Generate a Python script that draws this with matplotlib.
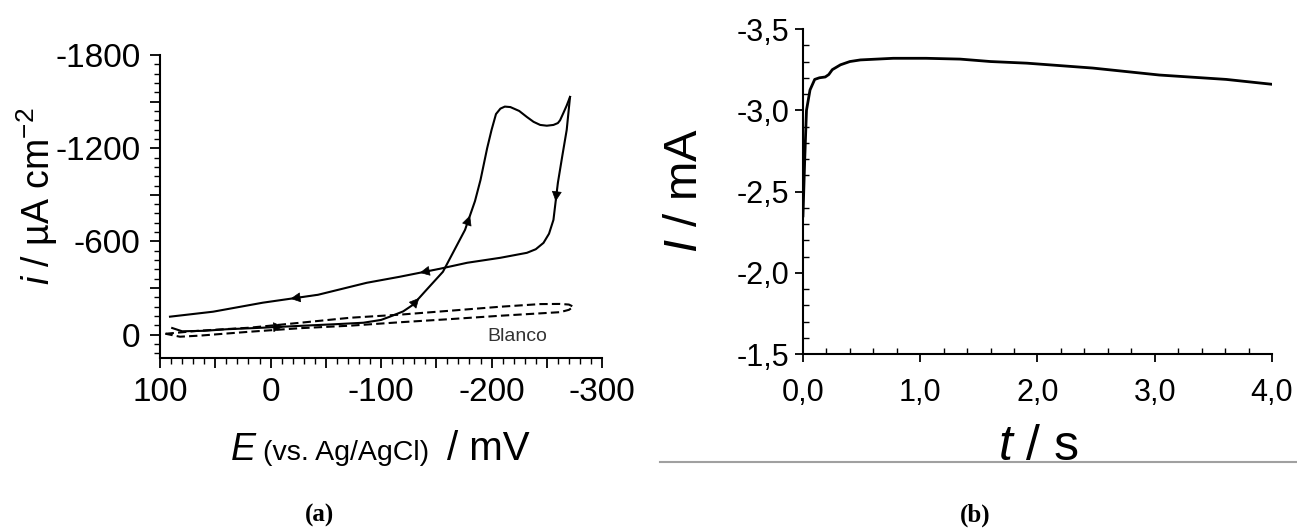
import matplotlib
matplotlib.use('Agg')
import matplotlib.pyplot as plt
from matplotlib.ticker import MultipleLocator, FuncFormatter

plt.rcParams['font.family'] = ['Liberation Sans', 'DejaVu Sans']
plt.rcParams['axes.unicode_minus'] = False
plt.rcParams['mathtext.fontset'] = 'custom'
plt.rcParams['mathtext.rm'] = 'Liberation Sans'
plt.rcParams['mathtext.it'] = 'Liberation Sans:italic'

# (a) voltammogram, forward scan (towards negative potentials)
E_fwd = [89, 80, 60, 40, 7, -30, -60, -84, -100, -108, -120, -129, -140, -156,
         -166, -176, -185, -190, -196, -200, -204, -208, -212, -217, -225, -232,
         -238, -244, -250, -256, -260, -262, -265, -268, -271]
i_fwd = [-43, -22, -25, -35, -45, -58, -68, -77, -95, -116, -150, -193, -280,
         -405, -540, -675, -860, -996, -1200, -1318, -1420, -1455, -1468, -1465,
         -1440, -1401, -1370, -1350, -1345, -1350, -1362, -1380, -1427, -1475, -1530]
# reverse scan
E_rev = [-271, -268, -264, -260, -256, -252, -247, -240, -232, -208, -178,
         -153, -117, -87, -43, 7, 52, 91]
i_rev = [-1530, -1318, -1150, -977, -739, -650, -591, -550, -527, -495, -463,
         -424, -373, -334, -257, -206, -148, -116]
# blank (dashed loop)
E_blank = [95, 64, 19, -27, -72, -117, -162, -208, -244, -262, -270, -274,
           -270, -262, -208, -162, -117, -72, -27, 19, 64, 82, 95]
i_blank = [-6, -26, -45, -77, -109, -129, -154, -180, -197, -198, -194, -180,
           -160, -145, -122, -100, -80, -58, -42, -19, 6, 13, -6]
# arrow positions (indices into the scans)
fwd_arrows = [4, 11, 15]
rev_arrows = [3, 11, 14]

# (b) chronoamperogram
t = [0.0, 0.015, 0.03, 0.06, 0.10, 0.14, 0.19, 0.22, 0.25, 0.32, 0.40, 0.49,
     0.77, 1.05, 1.34, 1.6, 1.91, 2.47, 3.04, 3.61, 4.0]
I = [-2.35, -2.7, -3.0, -3.125, -3.19, -3.2, -3.205, -3.22, -3.25, -3.28,
     -3.30, -3.31, -3.32, -3.32, -3.315, -3.30, -3.29, -3.26, -3.217, -3.19, -3.16]

fig = plt.figure(figsize=(12.97, 5.31), dpi=100)

# ---- panel (a)
ax1 = fig.add_axes([0.1234, 0.3258, 0.3408, 0.5706])
ax1.plot(E_fwd, i_fwd, color='black', lw=1.5)
ax1.plot(E_rev, i_rev, color='black', lw=1.5)
ax1.plot(E_blank, i_blank, color='black', lw=1.5, dashes=(4, 2))


def arrow(ax, xs, ys, k):
    xm = (xs[k] + xs[k + 1]) / 2.0
    ym = (ys[k] + ys[k + 1]) / 2.0
    ax.annotate('', xy=(xm, ym), xytext=(xs[k], ys[k]),
                arrowprops=dict(arrowstyle='-|>', color='black', lw=0.5,
                                mutation_scale=16, shrinkA=0, shrinkB=0))


for k in fwd_arrows:
    arrow(ax1, E_fwd, i_fwd, k)
for k in rev_arrows:
    arrow(ax1, E_rev, i_rev, k)

ax1.text(-223, 13, 'Blanco', fontsize=14, ha='center', va='center', color='#333333')

ax1.set_xlim(100, -300)
ax1.set_ylim(150, -1800)
ax1.xaxis.set_major_locator(MultipleLocator(50))
ax1.xaxis.set_minor_locator(MultipleLocator(10))
ax1.xaxis.set_major_formatter(FuncFormatter(lambda v, p: '%d' % v if v % 100 == 0 else ''))
ax1.yaxis.set_major_locator(MultipleLocator(300))
ax1.yaxis.set_minor_locator(MultipleLocator(60))
ax1.yaxis.set_major_formatter(FuncFormatter(lambda v, p: '%d' % v if v % 600 == 0 else ''))
for s in ['top', 'right']:
    ax1.spines[s].set_visible(False)
for s in ['left', 'bottom']:
    ax1.spines[s].set_linewidth(1.5)
ax1.tick_params(which='major', length=7, width=1.3, labelsize=24, pad=7)
ax1.tick_params(which='minor', length=4, width=1.0)

fig.text(37 / 1297, 1 - 196 / 531, r'$i$ / µA cm$^{\mathrm{-2}}$', fontsize=27,
         rotation=90, ha='center', va='center')
fig.text(230 / 1297, 1 - 460 / 531, r'$E$', fontsize=27, ha='left', va='baseline')
fig.text(263 / 1297, 1 - 460 / 531, '(vs. Ag/AgCl)', fontsize=20.5, ha='left', va='baseline')
fig.text(447 / 1297, 1 - 460 / 531, '/ mV', fontsize=29, ha='left', va='baseline')

# ---- panel (b)
ax2 = fig.add_axes([0.6191, 0.3333, 0.3616, 0.612])
ax2.plot(t, I, color='black', lw=2)
ax2.set_xlim(0, 4)
ax2.set_ylim(-1.5, -3.5)
ax2.xaxis.set_major_locator(MultipleLocator(1))
ax2.xaxis.set_minor_locator(MultipleLocator(0.2))
ax2.yaxis.set_major_locator(MultipleLocator(0.5))
ax2.yaxis.set_minor_locator(MultipleLocator(0.1))
ax2.xaxis.set_major_formatter(FuncFormatter(lambda v, p: ('%.1f' % v).replace('.', ',')))
ax2.yaxis.set_major_formatter(FuncFormatter(lambda v, p: ('%.1f' % v).replace('.', ',')))
for s in ['top', 'right']:
    ax2.spines[s].set_visible(False)
for s in ['left', 'bottom']:
    ax2.spines[s].set_linewidth(1.5)
ax2.tick_params(which='major', length=6, width=1.3, labelsize=22, pad=4)
ax2.tick_params(axis='x', which='major', pad=11)
ax2.tick_params(which='minor', length=4, width=1.0, direction='in')

fig.text(685 / 1297, 1 - 190 / 531, r'$I$ / mA', fontsize=34, rotation=90,
         ha='center', va='center')
fig.text(1038 / 1297, 1 - 460 / 531, r'$t$ / s', fontsize=36, ha='center', va='baseline')

fig.add_artist(plt.Line2D([660 / 1297, 1.0], [1 - 462 / 531, 1 - 462 / 531],
                          color='#a0a0a0', lw=1.5))

fig.text(320 / 1297, 1 - 515 / 531, '(a)', fontsize=18, fontweight='bold',
         family='Liberation Serif', ha='center', va='center')
fig.text(975 / 1297, 1 - 515 / 531, '(b)', fontsize=18, fontweight='bold',
         family='Liberation Serif', ha='center', va='center')

fig.savefig('out.png', dpi=100)
